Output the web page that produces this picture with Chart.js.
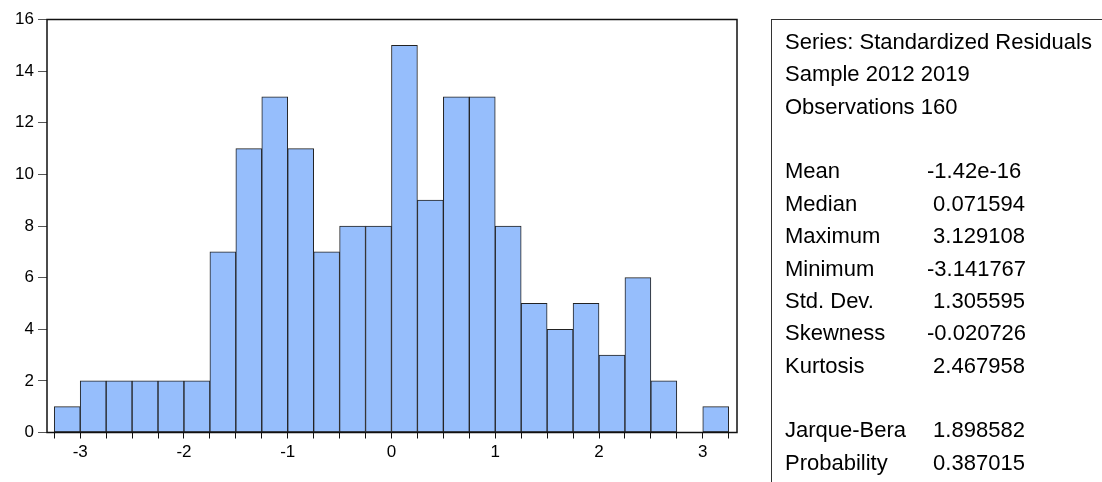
<!DOCTYPE html>
<html>
<head>
<meta charset="utf-8">
<script src="https://cdn.jsdelivr.net/npm/chart.js@4.4.1/dist/chart.umd.min.js"></script>
<style>
  html, body { margin: 0; padding: 0; background: #fff; }
  #wrap { position: relative; width: 1102px; height: 482px; overflow: hidden; }
  #chart { position: absolute; left: 0; top: 0; }
  #stats {
    position: absolute; left: 771px; top: 19px; width: 400px; height: 500px;
    border-left: 1.5px solid #333; border-top: 1.5px solid #333;
    font-family: 'Liberation Sans', Arial, sans-serif; font-size: 22px; color: #000;
  }
  #stats .rows { position: absolute; left: 13px; top: 6px; line-height: 32.36px; }
  #stats .row { position: relative; height: 32.36px; white-space: pre; }
  #stats .val { position: absolute; left: 142px; top: 0; }
</style>
</head>
<body>
<div id="wrap">
  <canvas id="chart" width="1102" height="482"></canvas>
  <div id="stats"><div class="rows" id="rows"></div></div>
</div>
<script>
// histogram bins (centres of 0.25 wide bins) and counts
const binCenters = [-3.125, -2.875, -2.625, -2.375, -2.125, -1.875, -1.625, -1.375, -1.125,
  -0.875, -0.625, -0.375, -0.125, 0.125, 0.375, 0.625, 0.875, 1.125, 1.375, 1.625, 1.875,
  2.125, 2.375, 2.625, 2.875, 3.125];
const counts = [1, 2, 2, 2, 2, 2, 7, 11, 13, 11, 7, 8, 8, 15, 9, 13, 13, 8, 5, 4, 5, 3, 6, 2, 0, 1];
// tick marks on the x axis (bin edges), labelled only at integers
const xTickMarks = [-3.25, -3, -2.75, -2.5, -2.25, -2, -1.75, -1.5, -1.25, -1, -0.75, -0.5, -0.25,
  0, 0.25, 0.5, 0.75, 1, 1.25, 1.5, 1.75, 2, 2.25, 2.5, 2.75, 3, 3.25];
const xLabels = [-3, -2, -1, 0, 1, 2, 3];
const yTicks = [0, 2, 4, 6, 8, 10, 12, 14, 16];

// summary table
const header = ['Series: Standardized Residuals', 'Sample 2012 2019', 'Observations 160', ''];
const statNames = ['Mean', 'Median', 'Maximum', 'Minimum', 'Std. Dev.', 'Skewness', 'Kurtosis', '', 'Jarque-Bera', 'Probability'];
const statValues = ['-1.42e-16', ' 0.071594', ' 3.129108', '-3.141767', ' 1.305595', '-0.020726', ' 2.467958', '', ' 1.898582', ' 0.387015'];

const rows = document.getElementById('rows');
header.forEach(t => {
  const d = document.createElement('div');
  d.className = 'row';
  d.textContent = t;
  rows.appendChild(d);
});
statNames.forEach((n, i) => {
  const d = document.createElement('div');
  d.className = 'row';
  d.textContent = n;
  const v = document.createElement('span');
  v.className = 'val';
  v.textContent = statValues[i];
  d.appendChild(v);
  rows.appendChild(d);
});

const FONT = { family: "'Liberation Sans', Arial, sans-serif", size: 17 };

// full frame round the plot area
const frame = {
  id: 'frame',
  afterDatasetsDraw(chart) {
    const { ctx, chartArea: a } = chart;
    ctx.save();
    ctx.strokeStyle = '#111';
    ctx.lineWidth = 1.5;
    ctx.strokeRect(a.left, a.top, a.right - a.left, a.bottom - a.top);
    ctx.restore();
  }
};

new Chart(document.getElementById('chart'), {
  type: 'bar',
  data: {
    datasets: [{
      data: binCenters.map((x, i) => ({ x: x, y: counts[i] })),
      backgroundColor: '#96BEFC',
      borderColor: '#222',
      borderWidth: 1,
      borderSkipped: false,
      barPercentage: 1,
      categoryPercentage: 1
    }]
  },
  options: {
    responsive: false,
    animation: false,
    layout: { padding: { left: 0, top: 19.5, right: 365, bottom: 0 } },
    plugins: { legend: { display: false }, tooltip: { enabled: false } },
    scales: {
      x: {
        type: 'linear',
        offset: false,
        min: -3.32,
        max: 3.33,
        afterBuildTicks: s => { s.ticks = xTickMarks.map(v => ({ value: v })); },
        afterFit: s => { s.height = 49.5; },
        ticks: {
          autoSkip: false,
          maxRotation: 0,
          padding: 4,
          color: '#000',
          font: FONT,
          callback: v => (xLabels.includes(v) ? String(v) : '')
        },
        grid: { offset: false, drawOnChartArea: false, drawTicks: true, tickLength: 6, tickColor: '#111', lineWidth: 1 },
        border: { display: false }
      },
      y: {
        min: 0,
        max: 16,
        afterBuildTicks: s => { s.ticks = yTicks.map(v => ({ value: v })); },
        afterFit: s => { s.width = 47; },
        ticks: { padding: 4, color: '#000', font: FONT },
        grid: { drawOnChartArea: false, drawTicks: true, tickLength: 9, tickColor: '#555', lineWidth: 1 },
        border: { display: false }
      }
    }
  },
  plugins: [frame]
});
</script>
</body>
</html>
